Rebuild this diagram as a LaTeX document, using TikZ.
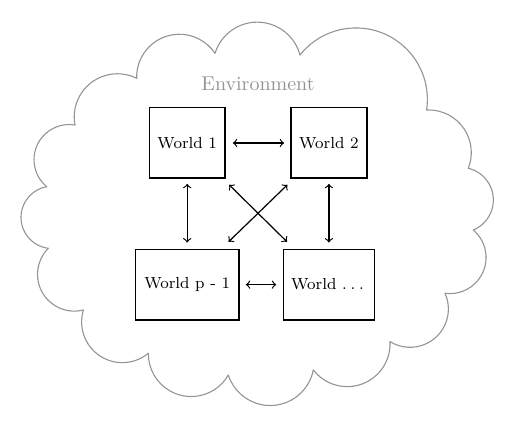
\documentclass[tikz,border=0pt]{standalone}
\usetikzlibrary{calc}
\begin{document}
\tikzset{
  wbox/.style={draw, thick, minimum height=35.3pt, inner sep=0pt, font=\footnotesize},
  link/.style={<->, semithick},
  cloudline/.style={draw=black!42, line width=0.55pt, line cap=round, line join=round},
  envtext/.style={text=black!42, inner sep=0pt}
}
\begin{tikzpicture}
\useasboundingbox (0,0) rectangle (258.5pt,214pt);
% cloud outline: one circular arc per puff (pixel coordinates of the cusps, bulge height)
\foreach \xa/\ya/\xb/\yb/\hh in {
136.7/78.3/215/53.3/31,
215/53.3/300/55/32,
300/55/426.7/110/53,
426.7/110/468.3/168.3/19.5,
468.3/168.3/473.3/230/22.5,
473.3/230/445/293.3/26,
445/293.3/390/341.7/27,
390/341.7/313.3/370/30,
313.3/370/228.3/375/33,
228.3/375/148.3/353.3/32,
148.3/353.3/83.3/310/29,
83.3/310/48.3/248.3/27,
48.3/248.3/46.7/186.7/26.5,
46.7/186.7/75/125/26,
75/125/136.7/78.3/24}{
  \pgfmathsetmacro\XA{0.5*\xa}
  \pgfmathsetmacro\YA{0.5*(428-\ya)}
  \pgfmathsetmacro\XB{0.5*\xb}
  \pgfmathsetmacro\YB{0.5*(428-\yb)}
  \pgfmathsetmacro\HH{0.5*\hh}
  \pgfmathsetmacro\CC{veclen(\XB-\XA,\YB-\YA)}
  \pgfmathsetmacro\PP{atan2(\YB-\YA,\XB-\XA)}
  \pgfmathsetmacro\RR{(\CC*\CC/4+\HH*\HH)/(2*\HH)}
  \pgfmathsetmacro\HA{atan2(\CC/2,\RR-\HH)}
  \draw[cloudline] (\XA pt,\YA pt) arc[start angle={\PP+90+\HA}, end angle={\PP+90-\HA}, radius=\RR pt];
}
\node[envtext, anchor=base] (env) at (129pt,168.5pt) {Environment};
\node[wbox, minimum width=37.85pt] (w1) at (93.6pt,142.5pt) {World 1};
\node[wbox, minimum width=38pt] (w2) at (164.45pt,142.5pt) {World 2};
\node[wbox, minimum width=51.85pt] (wp) at (93.6pt,71.7pt) {World p - 1};
\node[wbox, minimum width=45.5pt] (wd) at (164.45pt,71.7pt) {World .\kern1.9pt.\kern1.9pt.\kern1.4pt};
\draw[link, shorten <=3.5pt, shorten >=3pt] (w1) -- (w2);
\draw[link, shorten <=2.4pt, shorten >=3pt] (w1) -- (wp);
\draw[link, shorten <=2.4pt, shorten >=3pt] (w2) -- (wd);
\draw[link, shorten <=3pt, shorten >=3.2pt] (wp) -- (wd);
\draw[link] ($(w1.south east)+(1.65pt,-2.85pt)$) -- ($(wd.north west)+(2.2pt,3.35pt)$);
\draw[link] ($(w2.south west)+(-1.35pt,-2.85pt)$) -- ($(wp.north east)+(-5.65pt,3.35pt)$);
\end{tikzpicture}
\end{document}
